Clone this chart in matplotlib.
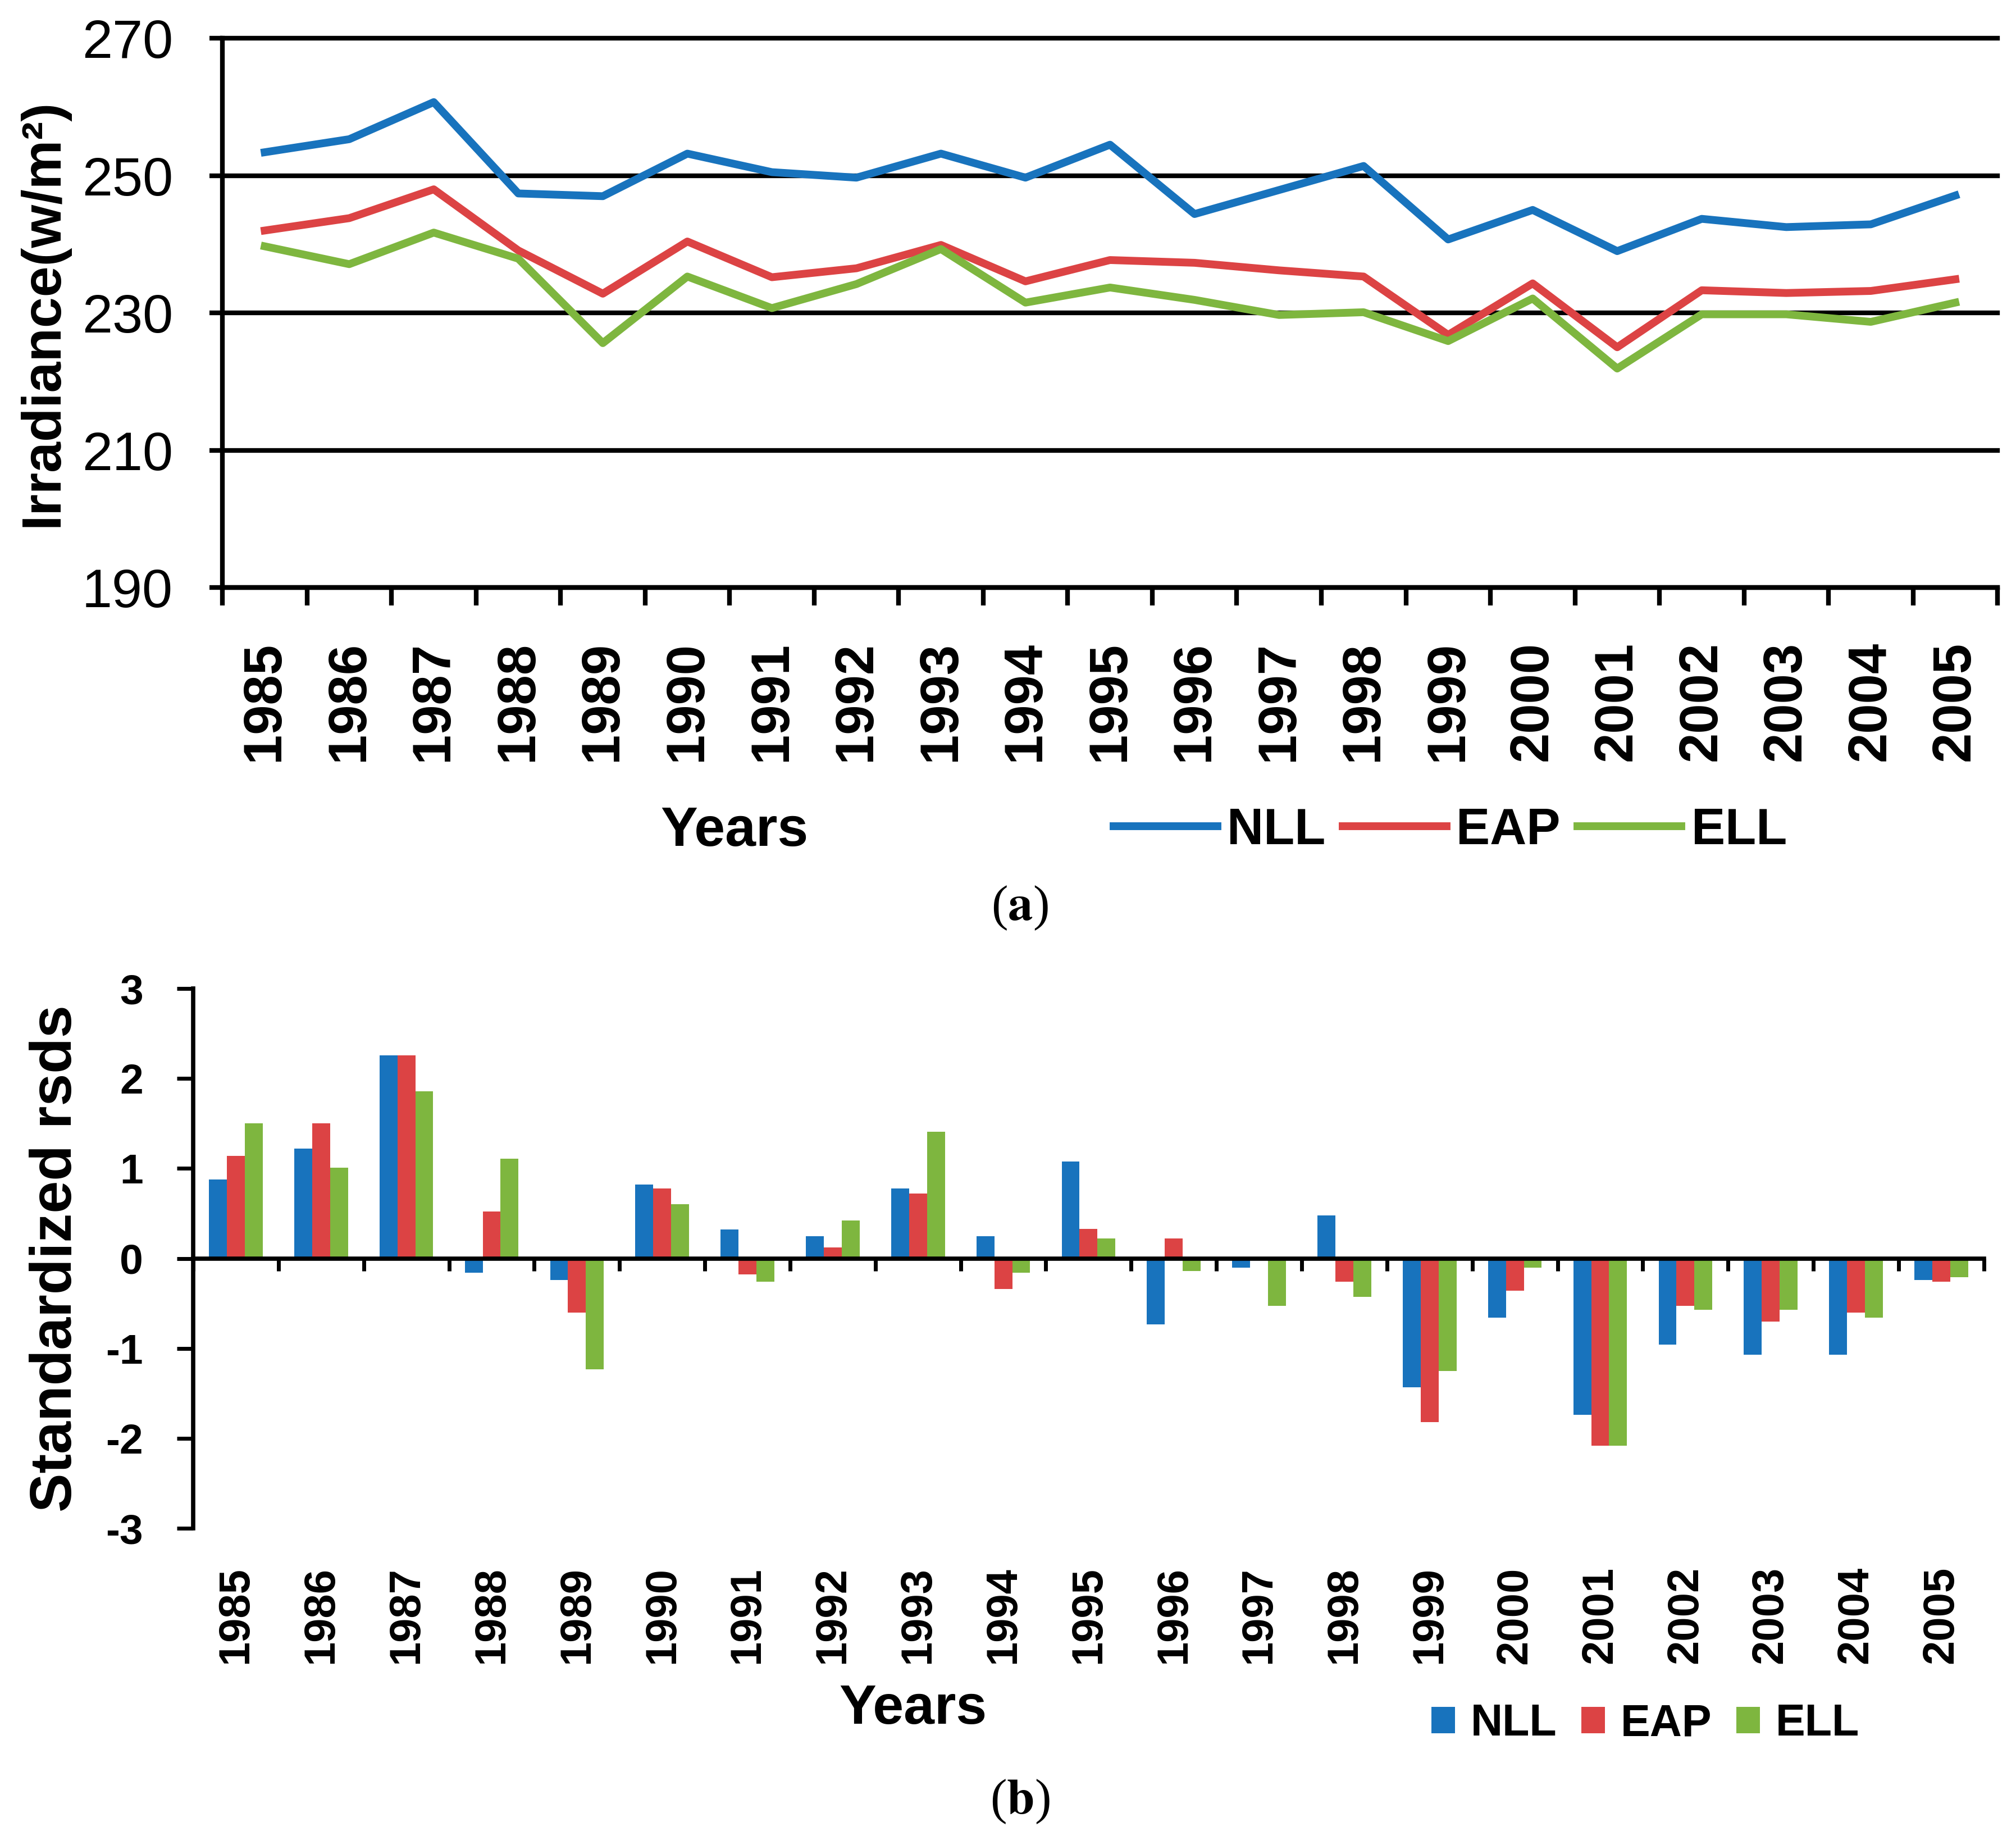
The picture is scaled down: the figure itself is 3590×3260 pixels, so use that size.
import numpy as np
import matplotlib
matplotlib.use('Agg')
import matplotlib.pyplot as plt

plt.rcParams['font.family'] = 'Liberation Sans'
plt.rcParams['axes.unicode_minus'] = False
plt.rcParams['mathtext.fontset'] = 'stix'

years = ['1985', '1986', '1987', '1988', '1989', '1990', '1991', '1992', '1993', '1994',
         '1995', '1996', '1997', '1998', '1999', '2000', '2001', '2002', '2003', '2004', '2005']
regions = ['NLL', 'EAP', 'ELL']

# (a) annual irradiance, w/m2
nll_irr = [253.4, 255.3, 260.7, 247.4, 247.0, 253.2, 250.5, 249.7, 253.2, 249.7, 254.5,
           244.4, 247.9, 251.4, 240.7, 245.0, 239.0, 243.7, 242.5, 242.9, 247.1]
eap_irr = [242.0, 243.8, 248.0, 239.1, 232.8, 240.4, 235.2, 236.5, 239.9, 234.6, 237.7,
           237.3, 236.2, 235.3, 226.8, 234.3, 225.0, 233.3, 232.9, 233.2, 234.9]
ell_irr = [239.7, 237.1, 241.7, 237.9, 225.6, 235.3, 230.7, 234.2, 239.3, 231.5, 233.7,
           231.9, 229.7, 230.1, 225.9, 232.1, 221.9, 229.8, 229.8, 228.7, 231.5]

# (b) standardized rsds
nll_std = [0.88, 1.22, 2.26, -0.16, -0.24, 0.82, 0.32, 0.25, 0.78, 0.25, 1.08,
           -0.73, -0.10, 0.48, -1.43, -0.66, -1.74, -0.96, -1.07, -1.07, -0.24]
eap_std = [1.14, 1.50, 2.26, 0.52, -0.60, 0.78, -0.18, 0.12, 0.72, -0.34, 0.33,
           0.22, 0.0, -0.26, -1.82, -0.36, -2.08, -0.53, -0.70, -0.60, -0.26]
ell_std = [1.50, 1.01, 1.86, 1.11, -1.23, 0.60, -0.26, 0.42, 1.41, -0.16, 0.22,
           -0.14, -0.53, -0.43, -1.25, -0.10, -2.08, -0.57, -0.57, -0.66, -0.21]

colors = ['#1873BD', '#DC4344', '#7EB63F']

fig = plt.figure(figsize=(35.91, 32.60), dpi=100)
ax1 = fig.add_axes([0.1103, 0.6791, 0.8803, 0.3])
ax2 = fig.add_axes([0.0958, 0.1653, 0.888, 0.2948])

x = np.arange(len(years))

# ---- panel (a)
for vals, c, lab in zip([nll_irr, eap_irr, ell_irr], colors, regions):
    ax1.plot(x, vals, color=c, lw=10, label=lab)

ax1.set_xlim(-0.5, len(years) - 0.5)
ax1.set_ylim(190, 270)
ax1.set_yticks([190, 210, 230, 250, 270])
ax1.yaxis.grid(True, color='black', lw=6)
ax1.set_axisbelow(True)
for gl in ax1.get_ygridlines():
    gl.set_clip_on(False)
ax1.spines['top'].set_visible(False)
ax1.spines['right'].set_visible(False)
ax1.spines['left'].set_linewidth(6)
ax1.spines['bottom'].set_linewidth(6)

ax1.set_xticks(x)
ax1.set_xticklabels(years, rotation=90, fontweight='bold', fontsize=69)
ax1.set_xticks(np.arange(-0.5, len(years), 1), minor=True)
ax1.tick_params(axis='x', which='major', length=0, pad=69)
ax1.tick_params(axis='x', which='minor', length=23, width=6, direction='out')
ax1.tick_params(axis='y', length=16.5, width=6, pad=47, labelsize=70)

ax1.set_ylabel('Irradiance(w/m²)', fontsize=71, fontweight='bold', va='center')
ax1.yaxis.set_label_coords(-0.101, 0.5)
ax1.set_xlabel('Years', fontsize=71, fontweight='bold', va='center')
ax1.xaxis.set_label_coords(0.2885, -0.4438)
ax1.legend(loc='center', bbox_to_anchor=(0.6916, -0.4428), ncol=3, frameon=False,
           prop={'weight': 'bold', 'size': 65}, handlelength=2.05,
           handletextpad=0.19, columnspacing=0.34, borderpad=0, borderaxespad=0)

# ---- panel (b)
w = 0.21
for k, (vals, c, lab) in enumerate(zip([nll_std, eap_std, ell_std], colors, regions)):
    ax2.bar(x + (k - 1) * w, vals, w, color=c, label=lab)

ax2.set_xlim(-0.5, len(years) - 0.5)
ax2.set_ylim(-3, 3)
ax2.set_yticks([-3, -2, -1, 0, 1, 2, 3])
ax2.set_yticklabels(['-3', '-2', '-1', '0', '1', '2', '3'], fontweight='bold')
ax2.spines['top'].set_visible(False)
ax2.spines['right'].set_visible(False)
ax2.spines['bottom'].set_position(('data', 0))
ax2.spines['left'].set_linewidth(5.5)
ax2.spines['bottom'].set_linewidth(5.5)

ax2.set_xticks(x)
ax2.set_xticklabels(years, rotation=90, fontweight='bold', fontsize=56)
ax2.set_xticks(np.arange(-0.5, len(years), 1), minor=True)
ax2.tick_params(axis='x', which='major', length=0, pad=395)
ax2.tick_params(axis='x', which='minor', length=16, width=5, direction='out')
ax2.tick_params(axis='y', length=21, width=5, pad=43, labelsize=54)

ax2.set_ylabel('Standardized rsds', fontsize=75, fontweight='bold', va='center')
ax2.yaxis.set_label_coords(-0.0765, 0.5)
ax2.set_xlabel('Years', fontsize=71, fontweight='bold', va='center')
ax2.xaxis.set_label_coords(0.402, -0.335)
ax2.legend(loc='center', bbox_to_anchor=(0.811, -0.363), ncol=3, frameon=False,
           prop={'weight': 'bold', 'size': 57}, handlelength=0.53, handleheight=0.53,
           handletextpad=0.35, columnspacing=0.55, borderpad=0, borderaxespad=0)

fig.text(1816 / 3591, 1 - 1617 / 3260, r'($\mathbf{a}$)', ha='center', va='center',
         fontsize=64, family='Liberation Serif')
fig.text(1816 / 3591, 1 - 3208 / 3260, r'($\mathbf{b}$)', ha='center', va='center',
         fontsize=64, family='Liberation Serif')

fig.savefig('out.png', dpi=100)
